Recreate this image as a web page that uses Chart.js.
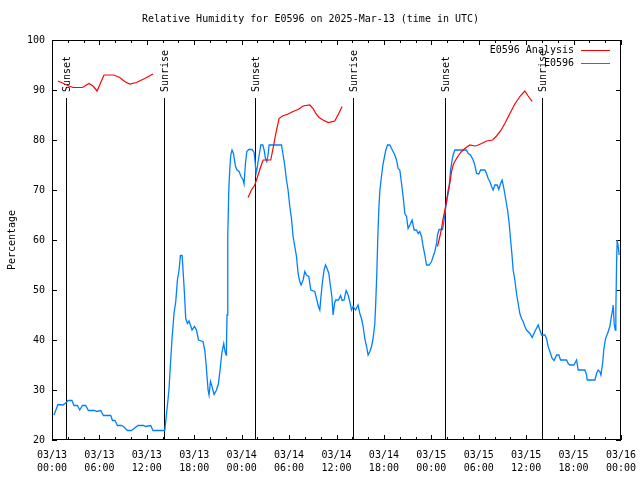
<!DOCTYPE html>
<html>
<head>
<meta charset="utf-8">
<script src="https://cdn.jsdelivr.net/npm/chart.js@4.4.1/dist/chart.umd.min.js"></script>
<style>
  html, body { margin: 0; padding: 0; background: #fff; }
  #wrap { width: 640px; height: 480px; }
</style>
</head>
<body>
<div id="wrap"><canvas id="myChart" width="640" height="480"></canvas></div>
<script>
// hours since 03/13 00:00 UTC
const blueHours = [0.25, 0.76, 1.39, 1.73, 2.03, 2.53, 2.78, 3.22, 3.51, 3.85, 4.27, 4.61, 5.41, 5.66, 6.16, 6.51, 7.43, 7.65, 7.97, 8.28,
  8.78, 9.04, 9.54, 10.05, 10.89, 11.61, 11.86, 12.49, 12.78, 14.27, 14.68, 14.81, 14.99, 15.19, 15.44, 15.66, 15.87, 16.08, 16.25, 16.46,
  16.58, 16.76, 16.92, 17.14, 17.34, 17.52, 17.72, 18.03, 18.28, 18.53, 19.11, 19.33, 19.49, 19.75, 19.87, 20.05, 20.25, 20.51, 20.81, 21.06,
  21.27, 21.48, 21.73, 21.9, 22.03, 22.08, 22.15, 22.24, 22.37, 22.49, 22.62, 22.78, 22.96, 23.22, 23.42, 23.67, 23.92, 24.18, 24.3, 24.48,
  24.65, 24.9, 25.32, 25.57, 25.7, 25.82, 25.95, 26.08, 26.25, 26.42, 26.67, 26.84, 27.01, 27.18, 27.34, 27.47, 29.04, 29.24, 29.42, 29.67,
  29.87, 30.09, 30.3, 30.51, 30.72, 30.94, 31.14, 31.35, 31.52, 31.77, 31.99, 32.2, 32.49, 32.75, 33.25, 33.47, 33.72, 33.89, 34.01, 34.23,
  34.43, 34.61, 34.81, 35.03, 35.24, 35.41, 35.57, 35.75, 35.91, 36.25, 36.51, 36.71, 36.96, 37.22, 37.47, 37.68, 37.9, 38.1, 38.41, 38.73,
  38.95, 39.16, 39.37, 39.58, 39.8, 40, 40.22, 40.43, 40.63, 40.85, 40.97, 41.1, 41.23, 41.35, 41.48, 41.61, 41.77, 41.9, 42.08, 42.24,
  42.46, 42.75, 42.96, 43.16, 43.38, 43.59, 43.8, 44.01, 44.23, 44.43, 44.65, 44.86, 45.06, 45.28, 45.57, 45.82, 46.13, 46.33, 46.54, 46.76,
  46.96, 47.18, 47.39, 47.72, 48.03, 48.23, 48.44, 48.66, 48.78, 48.99, 49.42, 49.62, 49.84, 50, 50.22, 50.43, 50.6, 50.76, 50.97, 52.46,
  52.66, 52.96, 53.29, 53.5, 53.72, 54.01, 54.23, 54.77, 54.99, 55.19, 55.41, 55.62, 55.82, 56.04, 56.33, 56.54, 56.76, 56.96, 57.18, 57.43,
  57.65, 57.85, 58.03, 58.19, 58.35, 58.57, 58.78, 58.99, 59.2, 59.42, 59.62, 59.83, 60.05, 60.47, 60.76, 61.1, 61.52, 61.95, 62.37, 62.58,
  62.78, 63, 63.29, 63.54, 63.85, 64.14, 64.35, 65.11, 65.32, 65.53, 66.04, 66.38, 66.58, 67.43, 67.65, 67.72, 68.7, 68.91, 69.11, 69.32,
  69.46, 69.67, 69.84, 70.05, 70.3, 70.59, 70.81, 70.94, 71.01, 71.14, 71.27, 71.35, 71.44, 71.52, 71.65, 71.77];
const blueValues = [25, 27.1, 27, 27.4, 27.9, 27.9, 26.9, 26.9, 26, 26.9, 26.9, 25.9, 25.9, 25.7, 25.9, 24.9, 24.9, 23.9, 23.9, 22.9,
  22.9, 22.7, 21.9, 21.9, 22.9, 22.9, 22.7, 22.9, 21.9, 21.9, 28.1, 30.3, 35.3, 40.3, 45.3, 47.7, 52, 54, 56.9, 56.9,
  54, 49.3, 44.3, 43.3, 43.8, 43, 42, 42.7, 42, 40, 39.7, 38, 35.3, 30, 29, 31.7, 30.7, 29.1, 30, 31.3,
  34, 37.3, 39.3, 37.7, 37, 39.4, 45, 60.7, 70, 74, 77, 78, 77.3, 74.7, 74, 73.7, 72.7, 72, 71.2, 75.3,
  77.7, 78.1, 78.1, 77.5, 75.7, 73.3, 74.3, 75.7, 77.3, 79, 79, 78, 76.3, 75.7, 77, 79, 79, 77, 75.3, 72,
  70, 66.7, 64.3, 60.7, 58.7, 56.7, 53.3, 51.7, 51, 52, 53.7, 53, 52.7, 50, 49.7, 48.3, 46.7, 46, 48.3, 51.7,
  54, 55, 54.3, 53.3, 50.7, 48.7, 45, 47.3, 48, 48, 48.9, 47.9, 48, 49.9, 49, 47.7, 46, 46.7, 46, 47,
  45.3, 44.3, 42.7, 40.3, 38.7, 37, 37.7, 38.7, 40.3, 43.3, 47.7, 53.3, 60.7, 66, 69.7, 71.7, 73.7, 75.3, 76.7, 78,
  79, 79, 78.3, 77.7, 77, 76, 74.3, 74, 71.3, 68.7, 65.3, 64.7, 62.3, 63, 64, 62, 62, 61.3, 61.7, 60.7,
  58.7, 57, 55, 55, 55.7, 56.7, 57.7, 59.3, 61, 62.1, 62.1, 64, 66.7, 68.3, 70, 74, 75.7, 77, 78, 78,
  77.3, 77, 76, 75, 73.3, 73.2, 74, 74, 73.3, 72.3, 71.7, 70.7, 70, 71, 71, 70.1, 71.3, 72, 70.3, 68,
  66, 63.3, 60, 57.3, 54, 52, 49.3, 47.3, 45.3, 44.3, 43.7, 42.7, 42, 41.3, 40.5, 41.7, 43, 41, 41, 40.3,
  38.7, 37.7, 36.3, 35.9, 37, 37, 36, 36, 35.3, 35, 35, 36, 34, 34, 33, 32, 32, 33.3, 34, 33.7,
  33, 35.3, 38.3, 40.3, 41.3, 42.7, 45, 46, 47, 43.3, 42, 46, 55.3, 60, 58.7, 57];

// analysis runs; null marks a break between runs
const redHours = [0.76, 1.19, 1.73, 2.15, 2.66, 3.85, 4.68, 5.19, 5.7, 6.58, 7.81, 8.57, 9.2, 9.84, 10.68, 11.73, 12.78,
  18,
  24.81, 25.24, 25.66, 26.08, 26.38, 26.71, 27.68, 27.97, 28.32, 28.73, 29.16, 29.87, 30.51, 31.14, 31.77, 32.62, 33.04, 33.38, 33.8, 34.3,
  34.94, 35.78, 36.25, 36.71,
  42,
  48.78, 49.08, 49.29, 49.49, 49.71, 49.92, 50.13, 50.34, 50.56, 50.76, 50.97, 51.19, 51.48, 51.82, 52.24, 52.87, 53.5, 53.8, 54.35, 54.99,
  55.75, 56.25, 56.76, 57.3, 57.94, 58.57, 59.2, 59.83, 60.25, 60.76];
const redValues = [91.8, 91.5, 91.1, 90.8, 90.5, 90.5, 91.3, 90.8, 89.8, 93, 93, 92.5, 91.7, 91.2, 91.5, 92.3, 93.2,
  null,
  68.5, 70, 71, 73, 74.5, 76, 76, 78.3, 81.3, 84.3, 84.8, 85.2, 85.7, 86.1, 86.8, 87, 86.3, 85.3, 84.5, 84,
  83.5, 83.8, 85.2, 86.7,
  null,
  58.7, 60.7, 62.3, 64.3, 66, 67.7, 70, 71.3, 73.7, 75, 75.7, 76.3, 77, 77.7, 78.3, 79, 78.8, 78.9, 79.3, 79.8,
  80, 80.8, 81.8, 83.3, 85.3, 87.2, 88.7, 89.8, 88.8, 87.7];

const sunHours = [1.77, 14.18, 25.66, 38.1, 49.75, 62.03];
const sunLabels = ["Sunset", "Sunrise", "Sunset", "Sunrise", "Sunset", "Sunrise"];

// one label per 6 hours, 0..72
const xTickLabels = [
  ["03/13", "00:00"], ["03/13", "06:00"], ["03/13", "12:00"], ["03/13", "18:00"],
  ["03/14", "00:00"], ["03/14", "06:00"], ["03/14", "12:00"], ["03/14", "18:00"],
  ["03/15", "00:00"], ["03/15", "06:00"], ["03/15", "12:00"], ["03/15", "18:00"],
  ["03/16", "00:00"]
];

const MONO = "'DejaVu Sans Mono', 'Liberation Mono', monospace";

// frame, inward ticks, sunrise/sunset markers
const framePlugin = {
  id: "frame",
  beforeDatasetsDraw(chart) {
    const { ctx, chartArea: a, scales: { x, y } } = chart;
    ctx.save();
    ctx.strokeStyle = "#000";
    ctx.lineWidth = 1;
    ctx.fillStyle = "#000";
    ctx.font = "10px " + MONO;

    const lineTop = y.getPixelForValue(88.4);
    const labelBase = y.getPixelForValue(89.6);
    sunHours.forEach((h, i) => {
      const px = Math.round(x.getPixelForValue(h)) + 0.5;
      ctx.beginPath();
      ctx.moveTo(px, lineTop);
      ctx.lineTo(px, a.bottom);
      ctx.stroke();
      ctx.save();
      ctx.translate(px + 1, labelBase);
      ctx.rotate(-Math.PI / 2);
      ctx.textAlign = "left";
      ctx.textBaseline = "middle";
      ctx.fillText(sunLabels[i], 0, 0);
      ctx.restore();
    });

    // ticks
    ctx.beginPath();
    x.ticks.forEach(t => {
      const px = Math.round(x.getPixelForValue(t.value)) + 0.5;
      const len = t.value % 6 === 0 ? 5 : 3;
      ctx.moveTo(px, a.bottom); ctx.lineTo(px, a.bottom - len);
      ctx.moveTo(px, a.top); ctx.lineTo(px, a.top + len);
    });
    y.ticks.forEach(t => {
      const py = Math.round(y.getPixelForValue(t.value)) + 0.5;
      ctx.moveTo(a.left, py); ctx.lineTo(a.left + 5, py);
      ctx.moveTo(a.right, py); ctx.lineTo(a.right - 5, py);
    });
    ctx.stroke();

    ctx.strokeRect(Math.round(a.left) + 0.5, Math.round(a.top) + 0.5,
      Math.round(a.right - a.left) - 1, Math.round(a.bottom - a.top) - 1);
    ctx.restore();
  },
  afterDatasetsDraw(chart) {
    // gnuplot-style key: text right-aligned, sample line after it
    const { ctx, chartArea: a } = chart;
    ctx.save();
    ctx.font = "10px " + MONO;
    ctx.textAlign = "right";
    ctx.textBaseline = "middle";
    chart.data.datasets.forEach((ds, i) => {
      const ty = a.top + 10 + i * 13;
      ctx.fillStyle = "#000";
      ctx.fillText(ds.label, a.right - 47, ty);
      ctx.strokeStyle = ds.borderColor;
      ctx.lineWidth = 1;
      ctx.beginPath();
      ctx.moveTo(a.right - 40, Math.round(ty) + 0.5);
      ctx.lineTo(a.right - 11, Math.round(ty) + 0.5);
      ctx.stroke();
    });
    ctx.restore();
  }
};

const canvas = document.getElementById("myChart");
const ctx = canvas.getContext("2d");

const myChart = new Chart(ctx, {
  type: "line",
  data: {
    datasets: [
      {
        label: "E0596 Analysis",
        borderColor: "#ff0000",
        backgroundColor: "#ff0000",
        borderWidth: 1.2,
        data: redHours.map((h, i) => ({ x: h, y: redValues[i] })),
      },
      {
        label: "E0596",
        borderColor: "#0080ff",
        backgroundColor: "#0080ff",
        borderWidth: 1.3,
        data: blueHours.map((h, i) => ({ x: h, y: blueValues[i] })),
      },
    ],
  },
  options: {
    responsive: false,
    animation: false,
    spanGaps: false,
    layout: { padding: { left: 0, right: 19, top: 0, bottom: 0 } },
    elements: {
      point: { radius: 0 },
      line: { tension: 0 },
    },
    plugins: {
      legend: { display: false },
      tooltip: { enabled: false },
      title: {
        display: true,
        text: "Relative Humidity for E0596 on 2025-Mar-13 (time in UTC)",
        color: "#000",
        font: { family: MONO, size: 10, weight: "normal" },
        padding: { top: 13, bottom: 15 },
      },
    },
    scales: {
      x: {
        type: "linear",
        min: 0,
        max: 72,
        grid: { display: false, drawTicks: false },
        border: { display: false },
        afterFit(scale) {
          scale.height = 40;
          scale.paddingLeft = 0;
          scale.paddingRight = 0;
        },
        ticks: {
          stepSize: 2,
          autoSkip: false,
          maxRotation: 0,
          padding: 9,
          color: "#000",
          font: { family: MONO, size: 10, lineHeight: 1.3 },
          callback: v => (v % 6 === 0 ? xTickLabels[v / 6] : ""),
        },
      },
      y: {
        min: 20,
        max: 100,
        grid: { display: false, drawTicks: false },
        border: { display: false },
        afterFit(scale) { scale.width = 52; },
        title: {
          display: true,
          text: "Percentage",
          color: "#000",
          font: { family: MONO, size: 10 },
          padding: { top: 6, bottom: 0 },
        },
        ticks: {
          stepSize: 10,
          padding: 7,
          color: "#000",
          font: { family: MONO, size: 10 },
        },
      },
    },
  },
  plugins: [framePlugin],
});
</script>
</body>
</html>
